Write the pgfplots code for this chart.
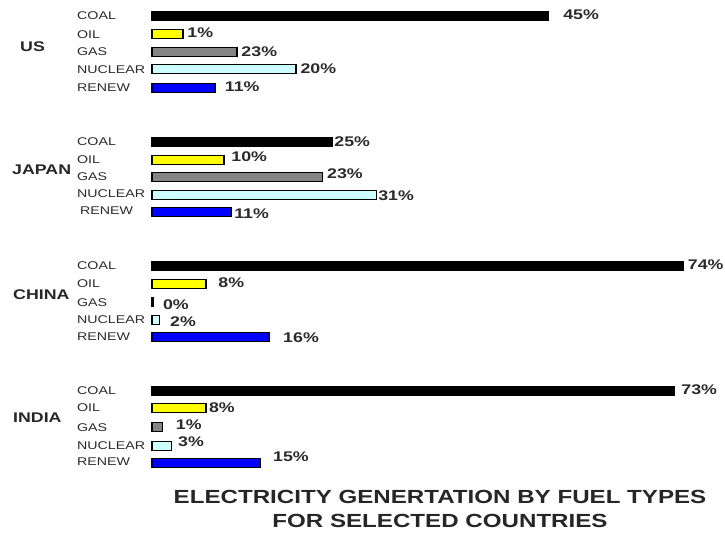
\documentclass[border=0pt]{standalone}
\usepackage{fontspec}
\setmainfont{Liberation Sans}[FakeStretch=1.27]
\usepackage{pgfplots}
\usepackage{pgfplotstable}
\pgfplotsset{compat=1.18}

\definecolor{oilc}{HTML}{FFFF00}
\definecolor{gasc}{HTML}{858585}
\definecolor{nucc}{HTML}{CCFFFF}
\definecolor{renc}{HTML}{0000FF}
\definecolor{txt}{HTML}{2A2A2A}

% y = row position (px from top), len = bar length as drawn,
% lx/ly = where the value label sits, lab = printed value
\pgfplotstableread{
y   len  lx   ly  lab
16  55.1 57.1 15  45
142 25.1 25.3 142 25
266 73.8 74.4 265 74
391 72.6 73.5 390 73
}\coal
\pgfplotstableread{
y   len  lx   ly  lab
34  4.3  4.9  33  1
160 10.0 11.0 157 10
284 7.5  9.2  283 8
408 7.5  7.9  408 8
}\oil
\pgfplotstableread{
y   len  lx   ly  lab
52  11.8 12.4 52  23
177 23.7 24.3 174 23
302 0.2  1.5  305 0
427 1.4  3.3  425 1
}\gas
\pgfplotstableread{
y   len  lx   ly  lab
69  20.0 20.6 69  20
195 31.2 31.4 196 31
320 1.1  2.5  322 2
446 2.7  3.6  442 3
}\nuclear
\pgfplotstableread{
y   len  lx   ly  lab
88  8.8  10.1 87  11
212 11.1 11.4 214 11
337 16.3 18.2 338 16
463 15.1 16.8 457 15
}\renew

\pgfplotsset{
  bars/.style={xbar, bar shift=0pt, bar width=9.5, draw=black, line width=1.1bp},
  vals/.style={draw=none, no markers, point meta=explicit symbolic,
    nodes near coords={\pgfplotspointmeta\%},
    every node near coord/.append style={anchor=west, inner sep=0pt,
      text=txt, font=\fontsize{14bp}{16bp}\selectfont\bfseries}},
}
\tikzset{
  fuel/.style={anchor=west, inner sep=0pt, text=txt,
    font=\fontsize{11.2bp}{13bp}\selectfont},
  country/.style={anchor=west, inner sep=0pt, text=black!85,
    font=\fontsize{14bp}{16bp}\selectfont\bfseries},
  ttl/.style={inner sep=0pt, text=black!85,
    font=\fontsize{19bp}{21bp}\selectfont\bfseries},
}

\begin{document}
\begin{tikzpicture}
\useasboundingbox (0,0) rectangle (725bp,542bp);
\begin{axis}[
  scale only axis, width=725bp, height=542bp,
  xmin=-21.111, xmax=79.583, ymin=0, ymax=542, y dir=reverse,
  hide axis, clip=false,
]
\addplot[bars, fill=black] table[x=len, y=y] {\coal};
\addplot[bars, fill=oilc] table[x=len, y=y] {\oil};
\addplot[bars, fill=gasc] table[x=len, y=y] {\gas};
\addplot[bars, fill=nucc] table[x=len, y=y] {\nuclear};
\addplot[bars, fill=renc] table[x=len, y=y] {\renew};

\addplot[vals] table[x=lx, y=ly, meta=lab] {\coal};
\addplot[vals] table[x=lx, y=ly, meta=lab] {\oil};
\addplot[vals] table[x=lx, y=ly, meta=lab] {\gas};
\addplot[vals] table[x=lx, y=ly, meta=lab] {\nuclear};
\addplot[vals] table[x=lx, y=ly, meta=lab] {\renew};

% fuel names
\node[fuel] at (axis cs:-10.42,16) {COAL};
\node[fuel] at (axis cs:-10.42,35) {OIL};
\node[fuel] at (axis cs:-10.42,52) {GAS};
\node[fuel] at (axis cs:-10.42,70) {NUCLEAR};
\node[fuel] at (axis cs:-10.42,88) {RENEW};
\node[fuel] at (axis cs:-10.42,142) {COAL};
\node[fuel] at (axis cs:-10.42,160) {OIL};
\node[fuel] at (axis cs:-10.42,177) {GAS};
\node[fuel] at (axis cs:-10.42,194) {NUCLEAR};
\node[fuel] at (axis cs:-10.0,211) {RENEW};
\node[fuel] at (axis cs:-10.42,266) {COAL};
\node[fuel] at (axis cs:-10.42,284) {OIL};
\node[fuel] at (axis cs:-10.42,303) {GAS};
\node[fuel] at (axis cs:-10.42,320) {NUCLEAR};
\node[fuel] at (axis cs:-10.42,337) {RENEW};
\node[fuel] at (axis cs:-10.42,391) {COAL};
\node[fuel] at (axis cs:-10.42,408) {OIL};
\node[fuel] at (axis cs:-10.42,428) {GAS};
\node[fuel] at (axis cs:-10.42,446) {NUCLEAR};
\node[fuel] at (axis cs:-10.42,462) {RENEW};

% countries
\node[country] at (axis cs:-18.33,47) {US};
\node[country] at (axis cs:-19.44,170) {JAPAN};
\node[country] at (axis cs:-19.31,295) {CHINA};
\node[country] at (axis cs:-19.31,418) {INDIA};

% title
\node[ttl] at (axis cs:40,497) {ELECTRICITY GENERTATION BY FUEL TYPES};
\node[ttl] at (axis cs:40,521) {FOR SELECTED COUNTRIES};
\end{axis}
\end{tikzpicture}
\end{document}
